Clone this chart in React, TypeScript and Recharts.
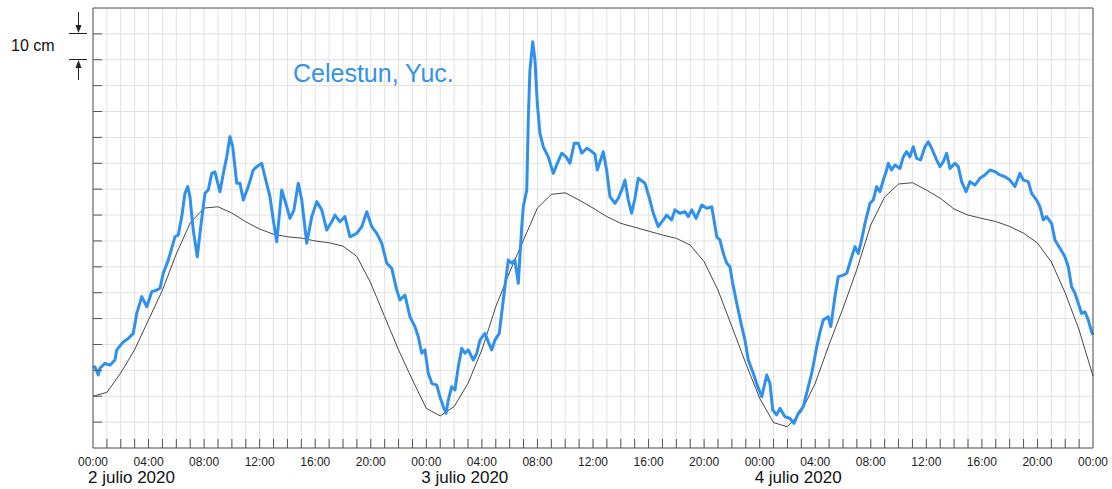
import React from 'react';
import { LineChart, Line, XAxis, YAxis, CartesianGrid } from 'recharts';

// observed sea level (cm), sampled times in hours since 2 julio 2020 00:00
const obsHours = [
  0, 0.14, 0.38, 0.5, 0.86, 1.22, 1.58, 1.71, 2.18, 2.54, 2.9, 3.15, 3.51, 3.87, 4.23, 4.59, 4.82, 5.06, 5.42, 5.67,
  5.9, 6.14, 6.39, 6.62, 6.82, 6.98, 7.22, 7.51, 7.7, 8.06, 8.3, 8.55, 8.78, 9.14, 9.38, 9.63, 9.86, 10.06, 10.35, 10.58,
  10.82, 11.18, 11.54, 11.79, 12.15, 12.38, 12.74, 12.98, 13.23, 13.59, 13.95, 14.18, 14.47, 14.78, 15.03, 15.39, 15.75, 16.11, 16.47, 16.83,
  17.19, 17.42, 17.78, 18.14, 18.5, 18.99, 19.35, 19.71, 20.07, 20.43, 20.79, 21.15, 21.51, 21.87, 22.1, 22.46, 22.82, 23.18, 23.42, 23.67,
  23.9, 24.14, 24.39, 24.75, 24.98, 25.22, 25.42, 25.58, 25.83, 26.06, 26.3, 26.55, 26.78, 27.02, 27.38, 27.63, 27.86, 28.22, 28.46, 28.71,
  28.94, 29.25, 29.54, 29.9, 30.15, 30.38, 30.62, 30.87, 30.98, 31.23, 31.34, 31.46, 31.66, 31.82, 31.99, 32.18, 32.42, 32.78, 33.14, 33.43,
  33.75, 34.06, 34.34, 34.65, 34.94, 35.19, 35.55, 35.78, 36.14, 36.31, 36.74, 36.98, 37.22, 37.58, 37.82, 38.07, 38.3, 38.54, 38.78, 39.02,
  39.26, 39.74, 40.1, 40.34, 40.7, 41.06, 41.3, 41.66, 41.9, 42.26, 42.62, 42.86, 43.11, 43.42, 43.83, 44.19, 44.55, 44.71, 44.91, 45.14,
  45.38, 45.63, 45.86, 46.06, 46.35, 46.71, 46.94, 47.18, 47.54, 47.86, 48.15, 48.51, 48.74, 48.94, 49.22, 49.46, 49.82, 50.18, 50.47, 50.78,
  51.14, 51.5, 51.75, 52.11, 52.35, 52.58, 52.94, 53.12, 53.42, 53.66, 54.02, 54.27, 54.63, 54.86, 55.1, 55.34, 55.58, 55.94, 56.18, 56.42,
  56.66, 56.9, 57.14, 57.26, 57.5, 57.74, 58.1, 58.34, 58.58, 58.82, 59.06, 59.3, 59.59, 59.9, 60.14, 60.38, 60.74, 60.98, 61.22, 61.46,
  61.7, 62.06, 62.3, 62.54, 62.86, 63.14, 63.5, 63.86, 64.22, 64.58, 64.94, 65.3, 65.66, 66.02, 66.38, 66.74, 66.98, 67.34, 67.58, 67.94,
  68.18, 68.42, 68.66, 69.02, 69.26, 69.62, 69.98, 70.22, 70.46, 70.7, 70.94, 71.18, 71.42, 71.66, 71.9, 72,
];

const observed = [
  31, 31.4, 28.2, 30.8, 32.7, 32, 34, 37.9, 41, 42.3, 44.3, 52, 58.5, 54.6, 60.4, 61, 61.7, 67.5, 72.6, 77.2,
  81.6, 82.3, 89.4, 98.4, 101, 97.1, 84.2, 73.9, 82.9, 98.4, 99.7, 106.1, 106.7, 99, 106, 112.5, 120.3, 116.4, 102.3, 102.3,
  95.8, 101, 107.4, 108.7, 110, 104.8, 97.1, 88.1, 79.7, 99.7, 93.2, 88.7, 92, 102.3, 95.8, 79.1, 89.4, 95.2, 92, 84.2,
  87.4, 90, 87.4, 89.4, 81.6, 82.9, 85.5, 91.3, 85.5, 82.9, 79.1, 71.4, 69.4, 61, 57.2, 59.1, 50.7, 46.9, 43, 36.6,
  37.9, 28.9, 25, 24.3, 19.8, 16, 13.4, 18.5, 23.7, 22.4, 31.4, 38.5, 36.6, 37.9, 34, 36.6, 41.7, 44.3, 41, 37.9,
  41.7, 44.3, 57.2, 72.6, 71.4, 72.6, 63.6, 85.5, 93.2, 99.7, 126.7, 146, 157, 149.9, 133.2, 121.6, 116.4, 112.5, 106.1, 110,
  113.9, 112.5, 110, 117.7, 117.7, 113.9, 115.8, 115.1, 113.5, 107.4, 114.5, 107.4, 97.1, 94.5, 96.5, 99.7, 103.5, 95.8, 90.7, 96.5,
  104.2, 102.3, 95.8, 90.7, 85.5, 88.1, 90, 88.1, 92, 90.7, 91.3, 89.4, 92, 88.7, 93.9, 92.6, 93.2, 88.1, 81.6, 80.4,
  75.2, 71.4, 70, 63.6, 55.9, 46.9, 41.7, 34, 28.9, 23.7, 19.8, 28.2, 25, 14.7, 12.8, 15.3, 12.1, 11.4, 9.5, 13.4,
  16, 23.7, 28.9, 39.1, 44.9, 49.5, 50.7, 46.9, 58.5, 66.2, 66.8, 67.5, 73.9, 77.8, 75.2, 80.4, 86.8, 94.5, 95.8, 101,
  99, 103.5, 107.4, 110, 107.4, 109.3, 108, 112.5, 114.5, 112.5, 116.4, 111.9, 111.3, 116.4, 118.3, 115.8, 111.3, 108.7, 110.6, 113.9,
  108, 110, 108.7, 102.9, 99, 102.9, 101.6, 104.2, 105.5, 107.4, 106.8, 105.5, 104.8, 103.5, 101, 106.1, 103.5, 102.9, 98.4, 95.8,
  93.2, 88.1, 89.4, 86.8, 80.4, 77.2, 73.9, 70, 62.3, 59.8, 55.9, 52, 52.6, 49.5, 44.9, 43.7,
];

// astronomical prediction (cm), hourly
const predHours = [
  0, 1, 2, 3, 4, 5, 6, 7, 8, 9, 10, 11, 12, 13, 14, 15, 16, 17, 18, 19, 20, 21, 22, 23, 24,
  25, 26, 27, 28, 29, 30, 31, 32, 33, 34, 35, 36, 37, 38, 39, 40, 41, 42, 43, 44, 45, 46, 47, 48,
  49, 50, 51, 52, 53, 54, 55, 56, 57, 58, 59, 60, 61, 62, 63, 64, 65, 66, 67, 68, 69, 70, 71, 72,
];
const predicted = [
  20, 21.5, 29, 38, 49.5, 61, 75, 87, 92.7, 93.2, 90.8, 87.4, 84.6, 82.6, 81.6, 81.1, 80, 79.3, 78, 74, 63.7, 50.7, 37.9, 26.3, 15.3,
  12.4, 16, 25, 37.9, 54.6, 68, 80.4, 92.7, 98, 98.6, 95.8, 92.7, 89.4, 86.8, 85.3, 83.8, 82.3, 81, 78.4, 72, 61, 46.9, 32.7, 19.2,
  9.8, 8.2, 14, 25, 40, 54, 69, 86.2, 97, 102, 102.5, 99.7, 96.5, 92.3, 90, 88.7, 87.5, 85.6, 83, 79.2, 71.9, 59.9, 45.6, 27.8,
];

const hourTicks = predHours;
const levelTicks = [0, 10, 20, 30, 40, 50, 60, 70, 80, 90, 100, 110, 120, 130, 140, 150, 160, 170];
const dayLabels = ['2 julio 2020', '3 julio 2020', '4 julio 2020'];

const obsData = obsHours.map((h, i) => ({ h, v: observed[i] }));
const predData = predHours.map((h, i) => ({ h, v: predicted[i] }));

const FONT = '"Liberation Sans", Arial, sans-serif';
const BORDER = '#555';
const TICK = 9;

const BottomTick = ({ x, y, payload }: any) => {
  const h = payload.value;
  const day = h % 24 === 0 && h < 72 ? dayLabels[h / 24] : null;
  return (
    <g>
      {h > 0 && h < 72 && <line x1={x} x2={x} y1={y - TICK} y2={y} stroke={BORDER} />}
      {h % 4 === 0 && (
        <text x={x} y={y + 18} textAnchor="middle" fontSize={12} fontFamily={FONT} fill="#222">
          {`${String(h % 24).padStart(2, '0')}:00`}
        </text>
      )}
      {day && (
        <text x={x - 5} y={y + 35} textAnchor="start" fontSize={17} fontFamily={FONT} fill="#111">
          {day}
        </text>
      )}
    </g>
  );
};

const TopTick = ({ x, y, payload }: any) => {
  const h = payload.value;
  if (h <= 0 || h >= 72) return <g />;
  return <line x1={x} x2={x} y1={y} y2={y + TICK} stroke={BORDER} />;
};

const LeftTick = ({ x, y, payload }: any) => {
  const v = payload.value;
  if (v <= 0 || v >= 170) return <g />;
  return <line x1={x} x2={x + TICK} y1={y} y2={y} stroke={BORDER} />;
};

const RightTick = ({ x, y, payload }: any) => {
  const v = payload.value;
  if (v <= 0 || v >= 170) return <g />;
  return <line x1={x - TICK} x2={x} y1={y} y2={y} stroke={BORDER} />;
};

export default function App() {
  return (
    <div style={{ position: 'absolute', left: 0, top: 0, width: 1112, height: 489, background: '#fff' }}>
      <LineChart width={1112} height={489} margin={{ top: 7, right: 18, bottom: 0, left: 92 }}>
        <CartesianGrid stroke="#e2e2e2" strokeWidth={1} />
        <XAxis
          dataKey="h"
          type="number"
          domain={[0, 72]}
          ticks={hourTicks}
          interval={0}
          height={41}
          tickSize={0}
          tickMargin={0}
          tickLine={false}
          axisLine={{ stroke: BORDER }}
          tick={<BottomTick />}
        />
        <XAxis
          xAxisId="top"
          orientation="top"
          dataKey="h"
          type="number"
          domain={[0, 72]}
          ticks={hourTicks}
          interval={0}
          height={1}
          tickSize={0}
          tickMargin={0}
          tickLine={false}
          axisLine={{ stroke: BORDER }}
          tick={<TopTick />}
        />
        <YAxis
          type="number"
          domain={[0, 170]}
          ticks={levelTicks}
          interval={0}
          width={1}
          tickSize={0}
          tickMargin={0}
          tickLine={false}
          axisLine={{ stroke: BORDER }}
          tick={<LeftTick />}
        />
        <YAxis
          yAxisId="right"
          orientation="right"
          type="number"
          domain={[0, 170]}
          ticks={levelTicks}
          interval={0}
          width={1}
          tickSize={0}
          tickMargin={0}
          tickLine={false}
          axisLine={{ stroke: BORDER }}
          tick={<RightTick />}
        />
        <Line
          data={predData}
          dataKey="v"
          type="linear"
          stroke="#333"
          strokeWidth={0.9}
          dot={false}
          isAnimationActive={false}
        />
        <Line
          data={obsData}
          dataKey="v"
          type="linear"
          stroke="#2f90ee"
          strokeWidth={3}
          strokeLinejoin="round"
          dot={false}
          isAnimationActive={false}
        />
      </LineChart>
      <svg width={1112} height={489} style={{ position: 'absolute', left: 0, top: 0, pointerEvents: 'none' }}>
        <text x={293} y={82} fontSize={25} fontFamily={FONT} fill="#3592ea">
          Celestun, Yuc.
        </text>
        <text x={11} y={51} fontSize={16} fontFamily={FONT} fill="#111">
          10 cm
        </text>
        <line x1={69} x2={87} y1={33.5} y2={33.5} stroke="#222" />
        <line x1={69} x2={87} y1={59.5} y2={59.5} stroke="#222" />
        <line x1={78.5} x2={78.5} y1={12} y2={27} stroke="#222" />
        <polygon points="75.5,25 81.5,25 78.5,33" fill="#222" />
        <line x1={78.5} x2={78.5} y1={66} y2={80} stroke="#222" />
        <polygon points="75.5,68 81.5,68 78.5,60" fill="#222" />
      </svg>
    </div>
  );
}
